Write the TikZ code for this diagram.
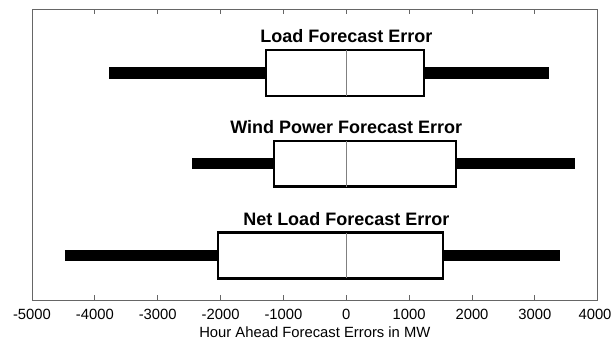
\documentclass[tikz,border=0pt]{standalone}
\usepackage{fontspec}
\setmainfont{Liberation Sans}
\usepackage{xcolor}
\usepackage{tikz}
\usetikzlibrary{positioning}

\begin{document}
\begin{tikzpicture}[x=62.86pt,y=1pt]
	\tikzstyle{axis}=[draw=black!60, line width=0.9pt]
	\tikzstyle{whisker}=[draw=black, line width=11.3pt]
	\tikzstyle{qbox}=[draw=black, line width=2.3pt, fill=white, line join=miter]
	\tikzstyle{median}=[draw=black!50, line width=0.9pt]
	\tikzstyle{boxtitle}=[anchor=base, inner sep=0pt, font=\fontsize{18}{20}\selectfont\bfseries]
	\tikzstyle{ticklabel}=[anchor=base, inner sep=0pt, font=\fontsize{14.8}{16}\selectfont]
	\useasboundingbox (-5.509,0) rectangle (4.227,342);
	% axes frame and ticks
	\draw[axis] (-5,41.7) rectangle (4,332.7);
	\foreach \t in {-4,...,3}
		\draw[axis] (\t,41.7) -- ++(0,5) (\t,332.7) -- ++(0,-5);
	\foreach \t/\lab in {-5/-5000,-4/-4000,-3/-3000,-2/-2000,-1/-1000,0/0,1/1000,2/2000,3/3000}
		\node[ticklabel](tick\t) at (\t,22.7) {\lab};
	\node[ticklabel, anchor=base east](tick4) at (4.222,22.7) {4000};
	\node[ticklabel](xlabel) at (-0.5,4.3) {Hour Ahead Forecast Errors in MW};
	% boxes: name/lower whisker/q1/q3/upper whisker/centre/title
	\foreach \n/\lo/\qa/\qb/\hi/\yc/\ttl in {
			load/-3.770/-1.282/1.241/3.230/269/Load Forecast Error,
			wind/-2.450/-1.150/1.745/3.643/178.3/Wind Power Forecast Error,
			net/-4.475/-2.041/1.534/3.404/86.5/Net Load Forecast Error}{
		\draw[whisker] (\lo,\yc) -- (\hi,\yc);
		\draw[qbox] (\qa,\yc-22.9) rectangle (\qb,\yc+22.9);
		\draw[median] (0,\yc-22.9) -- (0,\yc+22.9);
		\node[boxtitle](\n) at (0,\yc+30) {\ttl};
	}
\end{tikzpicture}
\end{document}
